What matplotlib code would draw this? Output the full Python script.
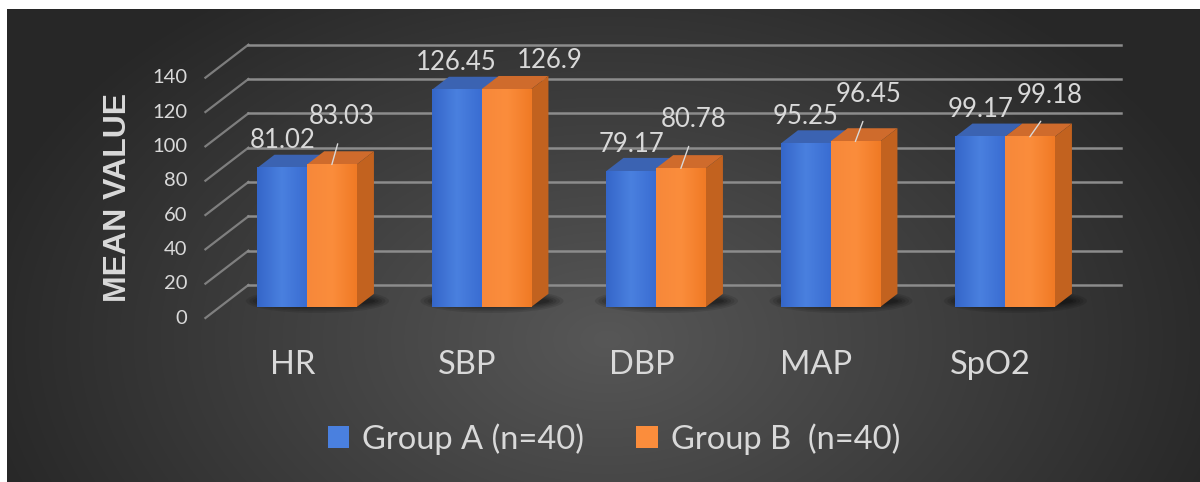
import numpy as np
import matplotlib.pyplot as plt
from matplotlib.patches import Polygon, Ellipse
from matplotlib.colors import LinearSegmentedColormap

categories = ["HR", "SBP", "DBP", "MAP", "SpO2"]
group_a = [81.02, 126.45, 79.17, 95.25, 99.17]
group_b = [83.03, 126.9, 80.78, 96.45, 99.18]
series_names = ["Group A (n=40)", "Group B  (n=40)"]
y_ticks = [0, 20, 40, 60, 80, 100, 120, 140]

# label offsets for group B (pixels), leader line or not
b_offsets = [(10, 48), (43, 29), (13, 49), (13, 47), (20, 41)]
b_leader = [True, False, True, True, True]

plt.rcParams['font.family'] = ['Lato', 'DejaVu Sans']
TXT = '#d9d9d9'
GRID = '#8c8c8c'

W, H = 1200, 482
fig = plt.figure(figsize=(12, 4.82), dpi=100)
fig.patch.set_facecolor('white')

# dark radial background
bg = fig.add_axes([7 / W, 0, (W - 7) / W, (H - 9) / H])
bg.set_axis_off()
yy, xx = np.mgrid[0:473, 0:1193]
r = np.sqrt(((xx - 600) / 650) ** 2 + ((yy - 330) / 430) ** 2)
r = np.clip(r, 0, 1)
c_in = np.array([0x57, 0x57, 0x57]) / 255
c_out = np.array([0x27, 0x27, 0x27]) / 255
img = c_in + (c_out - c_in) * r[..., None]
bg.imshow(img, aspect='auto', extent=(0, 1, 0, 1), origin='upper')

# plot axes (front plane of the bars)
ax = fig.add_axes([219.75 / W, 175 / H, 872.5 / W, 240.3 / H])
ax.set_axis_off()
ax.patch.set_alpha(0)

DX = 43 / 174.5   # depth offset in category units
DY = 33 / 1.716   # depth offset in value units
d_front, d_back, d_bar = -1 / 3, 2 / 3, 0.4

# walls: side diagonals + back gridlines
for t in y_ticks:
    ax.plot([-0.5 + d_front * DX, -0.5 + d_back * DX],
            [t + d_front * DY, t + d_back * DY],
            color=GRID, lw=1.6, clip_on=False, zorder=1, alpha=0.85)
    ax.plot([-0.5 + d_back * DX, 4.5 + d_back * DX], [t + d_back * DY] * 2,
            color=GRID, lw=1.8, clip_on=False, zorder=1)
    ax.annotate(str(t), (-0.5 + d_front * DX, t + d_front * DY),
                xytext=(-18, 0), textcoords='offset pixels',
                ha='right', va='center', fontsize=14.5, color=TXT,
                annotation_clip=False)

w = 0.285
x = np.arange(len(categories))

# soft base shadows
for i in x:
    for k, a in zip(range(5), [0.10, 0.10, 0.12, 0.14, 0.16]):
        e = Ellipse((i + 0.06, 3.5), width=2 * w + 0.25 - k * 0.04,
                    height=14 - k * 2, facecolor='black', alpha=a,
                    edgecolor='none', zorder=2, clip_on=False)
        ax.add_patch(e)

styles = [
    dict(front=['#3566c9', '#4a80df', '#3a6dd2'], top='#3b63b2', side='#2d55a5'),
    dict(front=['#f7883a', '#fb8d3c', '#f07a25'], top='#cf6b2c', side='#c2621f'),
]

handles = []
for s, vals in enumerate([group_a, group_b]):
    st = styles[s]
    xs = x + (s - 0.5) * w
    zb = 3 + s * 3
    bars = ax.bar(xs, vals, width=w, color=st['front'][1], zorder=zb + 2,
                  clip_on=False, label=series_names[s])
    handles.append(bars)
    cm = LinearSegmentedColormap.from_list('f%d' % s, st['front'])
    for xi, h, rect in zip(xs, vals, bars.patches):
        x0, x1 = xi - w / 2, xi + w / 2
        top = Polygon([(x0, h), (x1, h), (x1 + d_bar * DX, h + d_bar * DY),
                       (x0 + d_bar * DX, h + d_bar * DY)],
                      closed=True, facecolor=st['top'], edgecolor='none',
                      zorder=zb, clip_on=False)
        side = Polygon([(x1, 0), (x1, h), (x1 + d_bar * DX, h + d_bar * DY),
                        (x1 + d_bar * DX, d_bar * DY)],
                       closed=True, facecolor=st['side'], edgecolor='none',
                       zorder=zb, clip_on=False)
        ax.add_patch(top)
        ax.add_patch(side)
        # horizontal shading on the front face
        grad = np.linspace(0, 1, 64)[None, :]
        im = ax.imshow(grad, cmap=cm, aspect='auto', extent=(x0, x1, 0, h),
                       zorder=zb + 2.5, clip_on=False)
        im.set_clip_path(rect)

ax.set_xlim(-0.5, 4.5)
ax.set_ylim(0, 140)

# data labels
for i in x:
    ax.annotate(f"{group_a[i]:g}", (i - w / 2, group_a[i]), xytext=(0, 27),
                textcoords='offset pixels', ha='center', va='center',
                fontsize=18.5, color=TXT, zorder=20, annotation_clip=False)
    ap = None
    if b_leader[i]:
        ap = dict(arrowstyle='-', color=TXT, lw=1.0, shrinkA=9, shrinkB=0,
                  relpos=(0.5, 0))
    ax.annotate(f"{group_b[i]:g}", (i + w / 2, group_b[i]), xytext=b_offsets[i],
                textcoords='offset pixels', ha='center', va='center',
                fontsize=18.5, color=TXT, zorder=20, arrowprops=ap,
                annotation_clip=False)

# category labels
for i, c in enumerate(categories):
    ax.annotate(c, (i + d_front * DX, d_front * DY), xytext=(0, -47),
                textcoords='offset pixels', ha='center', va='center',
                fontsize=23.5, color=TXT, annotation_clip=False)

fig.text(118 / W, 1 - 197 / H, 'MEAN VALUE', rotation=90, ha='center',
         va='center', fontsize=23, fontweight='bold', color=TXT,
         fontfamily='Liberation Sans')

leg = fig.legend(handles=handles, labels=series_names, loc='center',
                 bbox_to_anchor=(614 / W, 1 - 439 / H), ncol=2, frameon=False,
                 fontsize=23.5, handlelength=0.65, handleheight=0.65,
                 handletextpad=0.4, columnspacing=1.6, labelcolor=TXT)

fig.savefig('out.png', dpi=100)
